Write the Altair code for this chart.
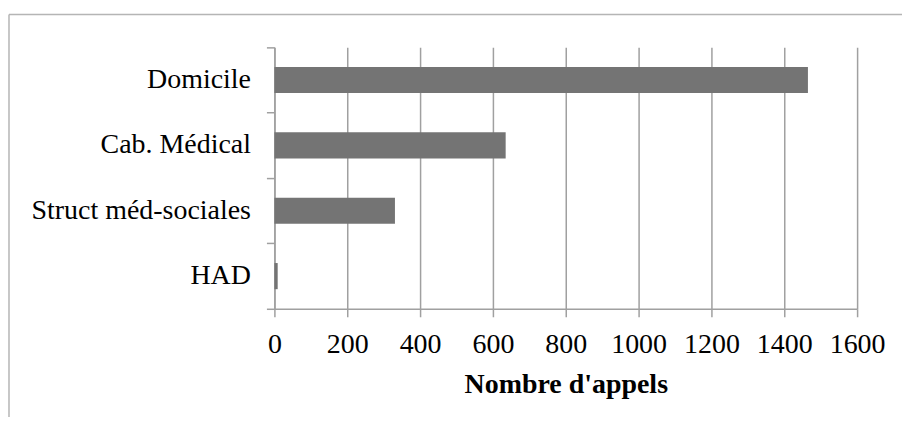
import altair as alt
import pandas as pd

categories = ["Domicile", "Cab. Médical", "Struct méd-sociales", "HAD"]
values = [1465, 635, 331, 9]
x_ticks = [0, 200, 400, 600, 800, 1000, 1200, 1400, 1600]

df = pd.DataFrame({"cat": categories, "n": values})

FONT = "Liberation Serif"
GRID = "#a0a0a0"
FRAME = "#b5b5b5"

bars = alt.Chart(df).mark_bar(color="#747474", height=alt.RelativeBandSize(0.4)).encode(
    x=alt.X(
        "n:Q",
        scale=alt.Scale(domain=[0, 1600], nice=False),
        axis=alt.Axis(
            values=x_ticks,
            format="d",
            title="Nombre d'appels",
            grid=True,
            gridColor=GRID,
            gridWidth=1.5,
            domainColor=GRID,
            domainWidth=1.5,
            tickColor=GRID,
            tickWidth=1.5,
            tickSize=8,
            labelFont=FONT,
            labelFontSize=28,
            labelColor="black",
            labelPadding=14,
            labelFlush=False,
            titleFont=FONT,
            titleFontSize=28,
            titleFontWeight="bold",
            titleColor="black",
            titlePadding=12,
        ),
    ),
    y=alt.Y(
        "cat:N",
        sort=categories,
        scale=alt.Scale(paddingInner=0, paddingOuter=0),
        axis=alt.Axis(
            title=None,
            grid=False,
            domainColor=GRID,
            domainWidth=1.5,
            tickColor=GRID,
            tickWidth=1.5,
            tickSize=8,
            bandPosition=1,
            tickExtra=True,
            labelFont=FONT,
            labelFontSize=28,
            labelColor="black",
            labelPadding=16,
            labelLimit=400,
        ),
    ),
)

one = alt.Data(values=[{"k": 1}])
frame_top = alt.Chart(one).mark_rule(color=FRAME, strokeWidth=1.5).encode(
    x=alt.value(-266), x2=alt.value(700), y=alt.value(-33)
)
frame_left = alt.Chart(one).mark_rule(color=FRAME, strokeWidth=1.5).encode(
    x=alt.value(-266), y=alt.value(-33), y2=alt.value(420)
)

chart = alt.layer(frame_top, frame_left, bars).properties(
    width=584,
    height=262,
    autosize=alt.AutoSizeParams(type="none"),
    padding={"left": 267, "top": 39, "right": 45, "bottom": 108},
).configure_view(stroke=None)

chart.save("out.html", embed_options={"renderer": "svg", "actions": False})
